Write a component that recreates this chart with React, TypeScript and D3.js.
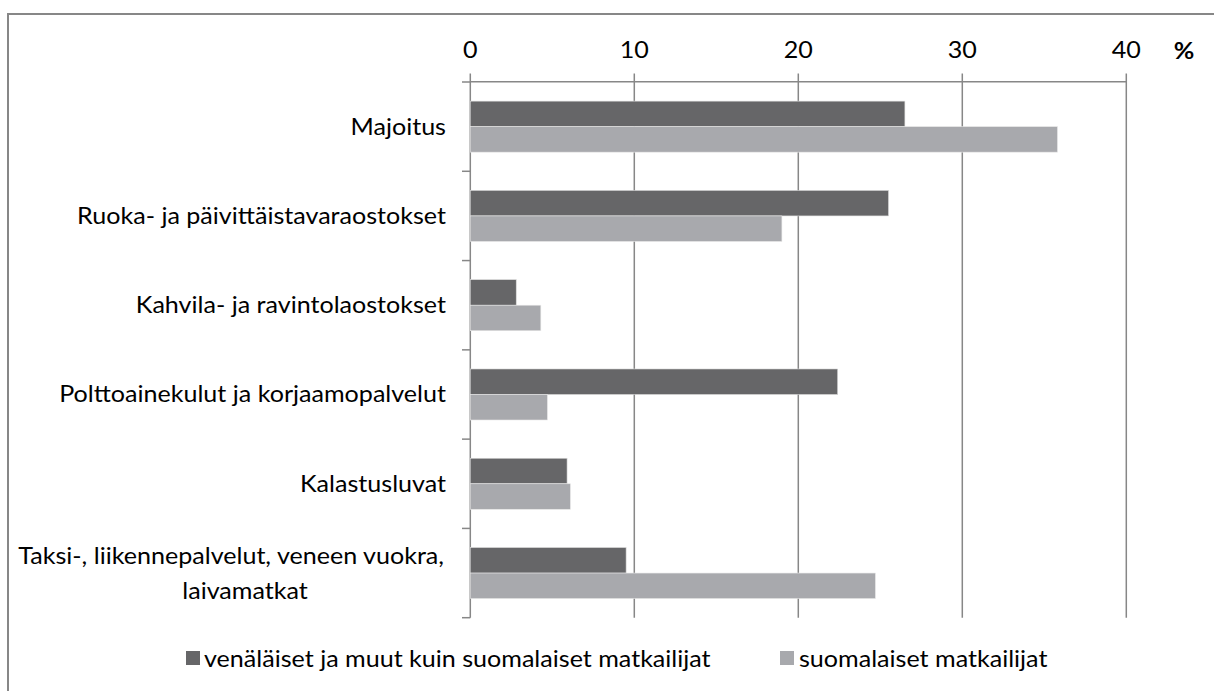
import React from "react";
import * as d3 from "d3";

const categories = [
  "Majoitus",
  "Ruoka- ja päivittäistavaraostokset",
  "Kahvila- ja ravintolaostokset",
  "Polttoainekulut ja korjaamopalvelut",
  "Kalastusluvat",
  "Taksi-, liikennepalvelut, veneen vuokra,|laivamatkat",
];
const foreignValues = [26.5, 25.5, 2.8, 22.4, 5.9, 9.5];
const finnishValues = [35.8, 19.0, 4.3, 4.7, 6.1, 24.7];
const xTicks = [0, 10, 20, 30, 40];
const seriesNames = [
  "venäläiset ja muut kuin suomalaiset matkailijat",
  "suomalaiset matkailijat",
];
const seriesColors = ["#666668", "#a8a9ad"];

const W = 1214;
const H = 691;
const FONT = "Lato, 'Open Sans', sans-serif";
const FS = 23.5;
const K = 1.068; // horizontal stretch factor to mimic Calibri widths
const GRID = "#878787";

export default function App() {
  const x = d3.scaleLinear().domain([0, 40]).range([470.3, 1126.3]);
  const y = d3.scaleBand().domain(categories).range([82, 617.7]).paddingInner(0).paddingOuter(0);
  const bw = y.bandwidth();
  const barH = bw / 3.5;
  const x0 = x(0);
  const axisY = 81.7;

  const label = (txt: string, tx: number, ty: number, anchor: string, weight = "normal", key?: any) => (
    <text
      key={key}
      transform={`translate(${tx},${ty}) scale(${K},1)`}
      textAnchor={anchor as any}
      fontFamily={FONT}
      fontSize={FS}
      fontWeight={weight}
      fill="#000"
    >
      {txt}
    </text>
  );

  return (
    <svg width={W} height={H} style={{ position: "absolute", left: 0, top: 0, background: "#fff" }}>
      <rect x={8} y={14} width={W + 20} height={H + 20} fill="#fff" stroke={GRID} strokeWidth={2} />
      {/* vertical gridlines */}
      {xTicks.map((t) => (
        <line key={"g" + t} x1={x(t)} x2={x(t)} y1={73.5} y2={617.7} stroke={GRID} strokeWidth={1.5} />
      ))}
      {/* top axis line */}
      <line x1={x0} x2={x(40)} y1={axisY} y2={axisY} stroke={GRID} strokeWidth={1.5} />
      {/* category ticks */}
      {[...categories.map((c) => y(c) as number), 617.7].map((v, i) => (
        <line key={"ct" + i} x1={462} x2={x0} y1={v} y2={v} stroke={GRID} strokeWidth={1.5} />
      ))}
      {/* bars */}
      {categories.map((c, i) => {
        const yc = (y(c) as number) + bw / 2;
        return (
          <g key={"b" + i}>
            <rect x={x0} y={yc - barH} width={x(foreignValues[i]) - x0} height={barH} fill={seriesColors[0]} stroke="#d9d9d9" strokeWidth={0.6} />
            <rect x={x0} y={yc} width={x(finnishValues[i]) - x0} height={barH} fill={seriesColors[1]} stroke="#e6e6e6" strokeWidth={0.6} />
          </g>
        );
      })}
      {/* x tick labels */}
      {xTicks.map((t) => label(String(t), x(t), 57.5, "middle", "normal", "xt" + t))}
      {label("%", 1184, 58.5, "middle", "bold", "pct")}
      {/* category labels */}
      {categories.map((c, i) => {
        const yc = (y(c) as number) + bw / 2;
        const lines = c.split("|");
        if (lines.length === 1) return label(c, 446, yc + 8, "end", "normal", "cl" + i);
        return (
          <g key={"cl" + i}>
            {label(lines[0], 444, yc - 9.5, "end", "normal")}
            {label(lines[1], 245, yc + 25.5, "middle", "normal")}
          </g>
        );
      })}
      {/* legend */}
      <rect x={186} y={651} width={14} height={14} fill={seriesColors[0]} />
      {label(seriesNames[0], 204, 666.5, "start", "normal", "l0")}
      <rect x={780} y={651} width={14} height={14} fill={seriesColors[1]} />
      {label(seriesNames[1], 799, 666.5, "start", "normal", "l1")}
    </svg>
  );
}
